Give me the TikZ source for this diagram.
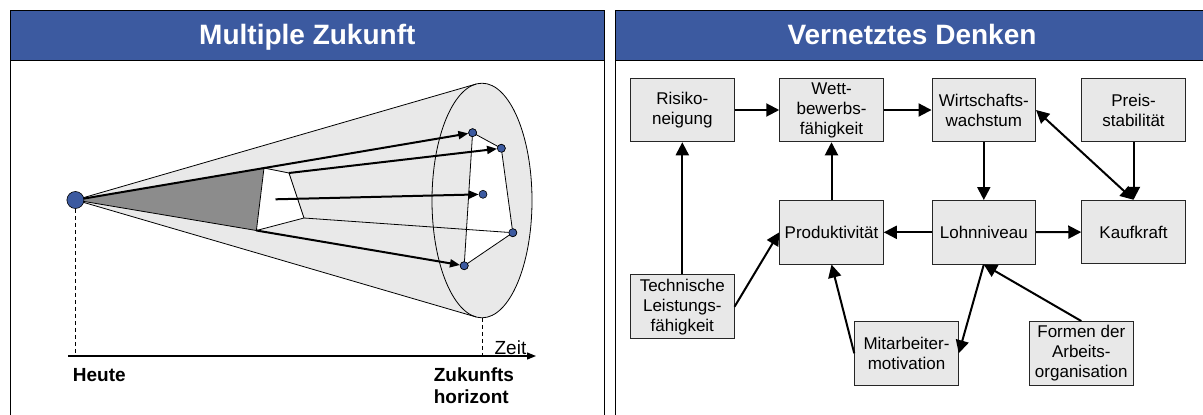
\documentclass[tikz,border=0pt]{standalone}
\usepackage{fontspec}
\setmainfont{Liberation Sans}
\usetikzlibrary{arrows.meta}
\definecolor{titleblue}{HTML}{3C5AA0}
\definecolor{boxgray}{HTML}{E8E8E8}
\definecolor{conegray}{HTML}{E9E9E9}
\definecolor{wedgegray}{HTML}{8C8C8C}
\definecolor{dotblue}{HTML}{3C5AA0}
\begin{document}
\begin{tikzpicture}[x=1pt,y=-1pt,
  box/.style={draw=black!85, line width=1pt, fill=boxgray, minimum width=103.5pt,
    minimum height=63.5pt, inner sep=0pt, align=center, font=\fontsize{17}{20}\selectfont},
  link/.style={line width=2pt, -{Triangle[length=13pt,width=13pt]}},
  duallink/.style={line width=2pt, {Triangle[length=13pt,width=13pt]}-{Triangle[length=13pt,width=13pt]}},
  fdot/.style={circle, draw=black, line width=0.6pt, fill=dotblue, minimum size=8pt, inner sep=0pt},
  future/.style={line width=2pt, -{Triangle[length=10pt,width=8pt]}},
  thinline/.style={line width=0.8pt},
  titlebar/.style={draw=black, line width=1pt, fill=titleblue},
  titletext/.style={text=white, font=\fontsize{28}{32}\selectfont\bfseries, inner sep=0pt},
  axislabel/.style={font=\fontsize{19}{22}\selectfont\bfseries, inner sep=0pt, align=left},
  guide/.style={dash pattern=on 4pt off 3pt, line width=0.8pt}]
\useasboundingbox (0,0) rectangle (1203,415);
\begin{scope}
\clip (0,0) rectangle (1203,415);
% panels
\draw[line width=1pt, fill=white] (10,10) rectangle (604.5,440);
\draw[line width=1pt, fill=white] (615.3,10) rectangle (1215,440);
\draw[titlebar] (10,10) rectangle (604.5,60);
\draw[titlebar] (615.3,10) rectangle (1215,60);
\end{scope}
\node[titletext, anchor=base] (title1) at (307.3,44.5) {Multiple Zukunft};
\node[titletext, anchor=base] (title2) at (912,44.5) {Vernetztes Denken};

% ---------- left: Multiple Zukunft ----------
\coordinate (apex) at (75.4,200);
\coordinate (ctop) at (475.85,84.1);
\coordinate (cbot) at (475.85,316.9);
\coordinate (ebot) at (482,317.8);
\fill[conegray] (apex) -- (ctop) -- (cbot) -- cycle;
\fill[conegray] (482,200.5) ellipse [x radius=50, y radius=117.3];
\draw[thinline] (apex) -- (ctop);
\draw[thinline] (apex) -- (cbot);
\draw[thinline] (482,200.5) ellipse [x radius=50, y radius=117.3];

\coordinate (q1) at (264,168);
\coordinate (q2) at (289,173);
\coordinate (q3) at (304,218);
\coordinate (q4) at (256.4,230.5);
\coordinate (qm) at (275.5,199.3);
\fill[wedgegray] (apex) -- (q1) -- (q4) -- cycle;
\draw[thinline, fill=white] (q1) -- (q2) -- (q3) -- (q4) -- cycle;
\draw[thinline] (apex) -- (q4);

\node[fdot] (d1) at (472.6,132.7) {};
\node[fdot] (d2) at (501.3,148.3) {};
\node[fdot] (d3) at (483,194.3) {};
\node[fdot] (d4) at (512.8,232.7) {};
\node[fdot] (d5) at (464.2,265.7) {};
\draw[thinline, fill=white] (d1.center) -- (d2.center) -- (d4.center) -- (d5.center) -- cycle;
\draw[thinline] (q3) -- (d4);
\draw[future] (apex) -- (d1);
\draw[future] (q2) -- (d2);
\draw[future] (qm) -- (d3);
\draw[future] (q4) -- (d5);
\foreach \d in {d1,d2,d3,d4,d5} \node[fdot] at (\d) {};
\node[fdot, minimum size=17pt] (heute) at (apex) {};

\coordinate (a1) at (75.4,356);
\coordinate (a2) at (482,356);
\coordinate (axs) at (68,356);
\coordinate (axe) at (536,356);
\draw[guide] (heute.south) -- (a1);
\draw[guide] (ebot) -- (a2);
\draw[line width=1.2pt, -{Triangle[length=9pt,width=7pt]}] (axs) -- (axe);
\node[font=\fontsize{19}{22}\selectfont, inner sep=0pt, anchor=base east] (zeit) at (526.5,354) {Zeit};
\node[axislabel, anchor=base west] (heutetxt) at (72.7,381) {Heute};
\node[axislabel, anchor=base west] (zuk1) at (433.6,381) {Zukunfts};
\node[axislabel, anchor=base west] (zuk2) at (433.6,403.3) {horizont};

% ---------- right: Vernetztes Denken ----------
\node[box] (ris) at (682.3,110) {Risiko-\\neigung};
\node[box] (wett) at (831.5,110) {Wett-\\bewerbs-\\fähigkeit};
\node[box] (wirt) at (983.8,110) {Wirtschafts-\\wachstum};
\node[box] (preis) at (1133.5,110) {Preis-\\stabilität};
\node[box] (prod) at (831.5,232.3) {Produktivität};
\node[box] (lohn) at (983.8,232.3) {Lohnniveau};
\node[box] (kauf) at (1133.5,232) {Kaufkraft};
\node[box] (tech) at (682.3,306.7) {Technische\\Leistungs-\\fähigkeit};
\node[box] (mit) at (906.5,353.3) {Mitarbeiter-\\motivation};
\node[box] (form) at (1081.3,353.3) {Formen der\\Arbeits-\\organisation};

\draw[link] (ris) -- (wett);
\draw[link] (wett) -- (wirt);
\draw[link] (wirt) -- (lohn);
\draw[link] (preis) -- (kauf);
\draw[duallink] (kauf.north) -- (wirt.east);
\draw[link] (lohn) -- (prod);
\draw[link] (lohn) -- (kauf);
\draw[link] (prod) -- (wett);
\draw[link] (tech) -- (ris);
\draw[link] (tech.east) -- (prod.west);
\draw[link] (mit.west) -- (prod.south);
\draw[link] (lohn.south) -- (mit.east);
\draw[link] (form.north) -- (lohn.south);
\end{tikzpicture}
\end{document}
